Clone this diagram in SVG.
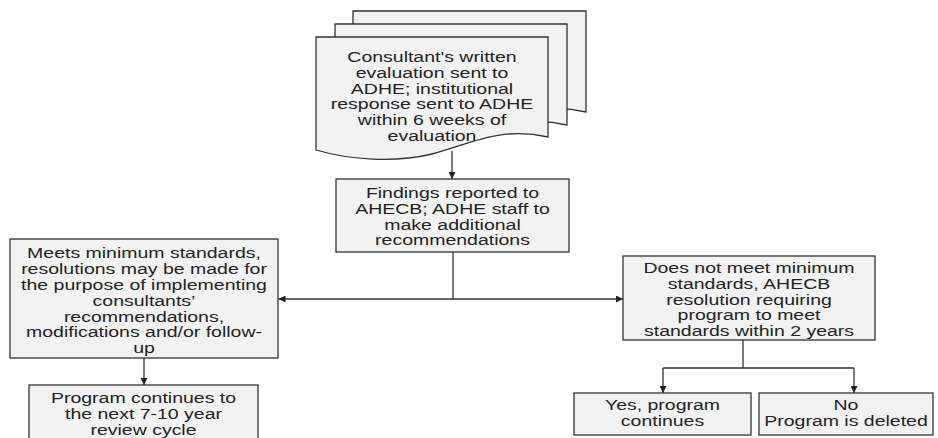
<svg xmlns="http://www.w3.org/2000/svg" width="938" height="438" viewBox="0 0 938 438">
<style>
.box{fill:#f2f2f2;stroke:#333;stroke-width:1.3}
.t{font-family:"Liberation Sans",Arial,sans-serif;font-size:15px;fill:#222;text-anchor:middle}
.c{fill:none;stroke:#333;stroke-width:1.3}
</style>
<defs>
<marker id="ah" viewBox="0 0 10 10" refX="10" refY="5" markerWidth="7" markerHeight="7" markerUnits="userSpaceOnUse" orient="auto">
<path d="M0,0 L10,5 L0,10 Z" fill="#222"/>
</marker>
</defs>
<rect width="938" height="438" fill="#fff"/>
<g id="node-consultant">
<path class="box" d="M353,11 H586 V112 C538,101 508,119 470,129 C433,138 388,135 353,125 Z"/>
<path class="box" d="M335,24 H567 V125 C519,114 489,132 451,142 C414,151 369,148 335,138 Z"/>
<path class="box" d="M316,37 H548 V137 C500,126 470,144 432,154 C395,163 350,160 316,150 Z"/>
<text class="t" transform="translate(432 0) scale(1.3 1)"><tspan x="0" y="62">Consultant's written</tspan><tspan x="0" y="77.8">evaluation sent to</tspan><tspan x="0" y="93.6">ADHE; institutional</tspan><tspan x="0" y="109.4">response sent to ADHE</tspan><tspan x="0" y="125.2">within 6 weeks of</tspan><tspan x="0" y="141">evaluation</tspan></text>
</g>
<g id="node-findings">
<rect class="box" x="336" y="179" width="233" height="73"/>
<text class="t" transform="translate(452.5 0) scale(1.3 1)"><tspan x="0" y="198">Findings reported to</tspan><tspan x="0" y="213.8">AHECB; ADHE staff to</tspan><tspan x="0" y="229.6">make additional</tspan><tspan x="0" y="245.4">recommendations</tspan></text>
</g>
<g id="node-meets">
<rect class="box" x="10" y="239" width="268" height="119"/>
<text class="t" transform="translate(144 0) scale(1.3 1)"><tspan x="0" y="258.5">Meets minimum standards,</tspan><tspan x="0" y="274.3">resolutions may be made for</tspan><tspan x="0" y="290.1">the purpose of implementing</tspan><tspan x="0" y="305.9">consultants’</tspan><tspan x="0" y="321.7">recommendations,</tspan><tspan x="0" y="337.5">modifications and/or follow-</tspan><tspan x="0" y="353.3">up</tspan></text>
</g>
<g id="node-continues">
<rect class="box" x="29" y="385" width="229" height="60"/>
<text class="t" transform="translate(143.5 0) scale(1.3 1)"><tspan x="0" y="403">Program continues to</tspan><tspan x="0" y="418.8">the next 7-10 year</tspan><tspan x="0" y="434.6">review cycle</tspan></text>
</g>
<g id="node-notmeet">
<rect class="box" x="623" y="256" width="252" height="84"/>
<text class="t" transform="translate(749 0) scale(1.3 1)"><tspan x="0" y="273">Does not meet minimum</tspan><tspan x="0" y="288.8">standards, AHECB</tspan><tspan x="0" y="304.6">resolution requiring</tspan><tspan x="0" y="320.4">program to meet</tspan><tspan x="0" y="336.2">standards within 2 years</tspan></text>
</g>
<g id="node-yes">
<rect class="box" x="574" y="393" width="177" height="42"/>
<text class="t" transform="translate(662.5 0) scale(1.3 1)"><tspan x="0" y="410.5">Yes, program</tspan><tspan x="0" y="426.3">continues</tspan></text>
</g>
<g id="node-no">
<rect class="box" x="759" y="393" width="174" height="42"/>
<text class="t" transform="translate(846 0) scale(1.3 1)"><tspan x="0" y="410.5">No</tspan><tspan x="0" y="426.3">Program is deleted</tspan></text>
</g>
<g id="connectors">
<path class="c" d="M452,151 V179" marker-end="url(#ah)"/>
<path class="c" d="M453,252 V299"/>
<path class="c" d="M453,299 H278.5" marker-end="url(#ah)"/>
<path class="c" d="M453,299 H623" marker-end="url(#ah)"/>
<path class="c" d="M144,358 V385" marker-end="url(#ah)"/>
<path class="c" d="M743,340 V368"/>
<path class="c" d="M663,368 H854"/>
<path class="c" d="M663,368 V393" marker-end="url(#ah)"/>
<path class="c" d="M854,368 V393" marker-end="url(#ah)"/>
</g>
</svg>
